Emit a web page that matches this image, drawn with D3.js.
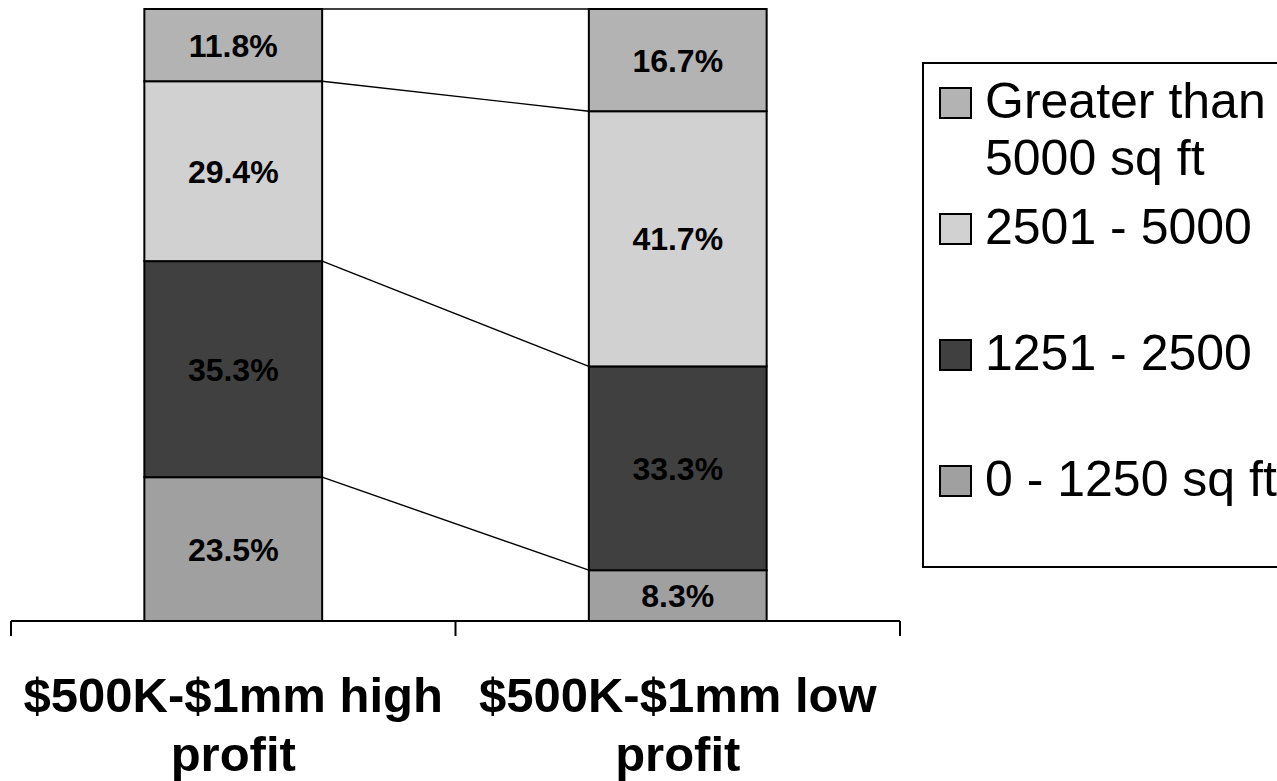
<!DOCTYPE html>
<html>
<head>
<meta charset="utf-8">
<script src="https://cdn.jsdelivr.net/npm/d3@7"></script>
<style>
  html, body { margin: 0; padding: 0; background: #ffffff; }
  svg { display: block; font-family: "Liberation Sans", Arial, sans-serif; }
</style>
</head>
<body>
<svg id="chart" width="1277" height="781"></svg>
<script>
// Categories (x axis), each label split into its display lines
const categories = ["$500K-$1mm high profit", "$500K-$1mm low profit"];
const categoryLines = [["$500K-$1mm high", "profit"], ["$500K-$1mm low", "profit"]];

// Series, stacked bottom to top (percent of businesses by facility size)
const seriesKeys = ["0 - 1250 sq ft", "1251 - 2500", "2501 - 5000", "Greater than 5000 sq ft"];
const small   = [23.5, 8.3];   // 0 - 1250 sq ft
const medium  = [35.3, 33.3];  // 1251 - 2500
const large   = [29.4, 41.7];  // 2501 - 5000
const xlarge  = [11.8, 16.7];  // Greater than 5000 sq ft

// Legend entries, top to bottom, with their text lines
const legendKeys = ["Greater than 5000 sq ft", "2501 - 5000", "1251 - 2500", "0 - 1250 sq ft"];
const legendLines = [["Greater than", "5000 sq ft"], ["2501 - 5000"], ["1251 - 2500"], ["0 - 1250 sq ft"]];

const fills = {
  "0 - 1250 sq ft": "#a0a0a0",
  "1251 - 2500": "#404040",
  "2501 - 5000": "#d1d1d1",
  "Greater than 5000 sq ft": "#b3b3b3"
};

const rows = categories.map((c, i) => ({
  category: c,
  "0 - 1250 sq ft": small[i],
  "1251 - 2500": medium[i],
  "2501 - 5000": large[i],
  "Greater than 5000 sq ft": xlarge[i]
}));

const svg = d3.select("#chart");

const x = d3.scaleBand().domain(categories).range([11, 900]).paddingInner(0).paddingOuter(0);
const y = d3.scaleLinear().domain([0, 100]).range([621, 9]);
const barW = x.bandwidth() * 0.4;
const barX = c => x(c) + (x.bandwidth() - barW) / 2;

const stacked = d3.stack().keys(seriesKeys)(rows);

// Series lines joining each stack boundary between neighbouring bars
const boundaries = stacked.map(s => s.map(d => d[1]));
const lineG = svg.append("g");
boundaries.forEach(b => {
  for (let i = 0; i < categories.length - 1; i++) {
    lineG.append("line")
      .attr("x1", barX(categories[i]) + barW)
      .attr("x2", barX(categories[i + 1]))
      .attr("y1", y(b[i]))
      .attr("y2", y(b[i + 1]))
      .attr("stroke", "#000")
      .attr("stroke-width", 1.4);
  }
});

// Stacked bars
const layers = svg.append("g").selectAll("g")
  .data(stacked)
  .join("g")
  .attr("fill", s => fills[s.key]);

layers.selectAll("rect")
  .data(s => s.map(d => Object.assign({}, d, { key: s.key })))
  .join("rect")
  .attr("x", d => barX(d.data.category))
  .attr("y", d => y(d[1]))
  .attr("width", barW)
  .attr("height", d => y(d[0]) - y(d[1]))
  .attr("stroke", "#000")
  .attr("stroke-width", 2);

// Value labels
layers.selectAll("text")
  .data(s => s.map(d => Object.assign({}, d, { key: s.key })))
  .join("text")
  .attr("x", d => barX(d.data.category) + barW / 2)
  .attr("y", d => (y(d[0]) + y(d[1])) / 2)
  .attr("dy", "0.36em")
  .attr("text-anchor", "middle")
  .attr("font-size", 32)
  .attr("font-weight", "bold")
  .attr("fill", "#000")
  .text(d => (d[1] - d[0]).toFixed(1) + "%");

// Category axis: baseline plus tick marks at band edges
const axisG = svg.append("g");
axisG.append("line")
  .attr("x1", x.range()[0]).attr("x2", x.range()[1])
  .attr("y1", y(0)).attr("y2", y(0))
  .attr("stroke", "#000").attr("stroke-width", 2);
const edges = categories.map(c => x(c)).concat([x.range()[1]]);
axisG.selectAll("line.tick")
  .data(edges)
  .join("line")
  .attr("class", "tick")
  .attr("x1", d => d).attr("x2", d => d)
  .attr("y1", y(0)).attr("y2", y(0) + 15)
  .attr("stroke", "#000").attr("stroke-width", 2);

axisG.selectAll("text.cat")
  .data(categories)
  .join("text")
  .attr("class", "cat")
  .attr("x", c => x(c) + x.bandwidth() / 2)
  .attr("y", 712)
  .attr("text-anchor", "middle")
  .attr("font-size", 49)
  .attr("font-weight", "bold")
  .attr("fill", "#000")
  .each(function (c, i) {
    d3.select(this).selectAll("tspan")
      .data(categoryLines[i])
      .join("tspan")
      .attr("x", x(c) + x.bandwidth() / 2)
      .attr("dy", (d, j) => j === 0 ? 0 : 59)
      .text(d => d);
  });

// Legend
const legend = svg.append("g");
legend.append("rect")
  .attr("x", 923).attr("y", 63)
  .attr("width", 420).attr("height", 504)
  .attr("fill", "#fff").attr("stroke", "#000").attr("stroke-width", 2);

const entry = legend.selectAll("g.entry")
  .data(legendKeys)
  .join("g")
  .attr("class", "entry")
  .attr("transform", (d, i) => `translate(0, ${118 + i * 126})`);

entry.append("rect")
  .attr("x", 940).attr("y", -30)
  .attr("width", 31).attr("height", 30)
  .attr("fill", d => fills[d])
  .attr("stroke", "#000").attr("stroke-width", 2);

entry.append("text")
  .attr("x", 985).attr("y", 0)
  .attr("font-size", 50)
  .attr("fill", "#000")
  .each(function (d, i) {
    d3.select(this).selectAll("tspan")
      .data(legendLines[i])
      .join("tspan")
      .attr("x", 985)
      .attr("dy", (t, j) => j === 0 ? 0 : 57)
      .text(t => t);
  });
</script>
</body>
</html>
